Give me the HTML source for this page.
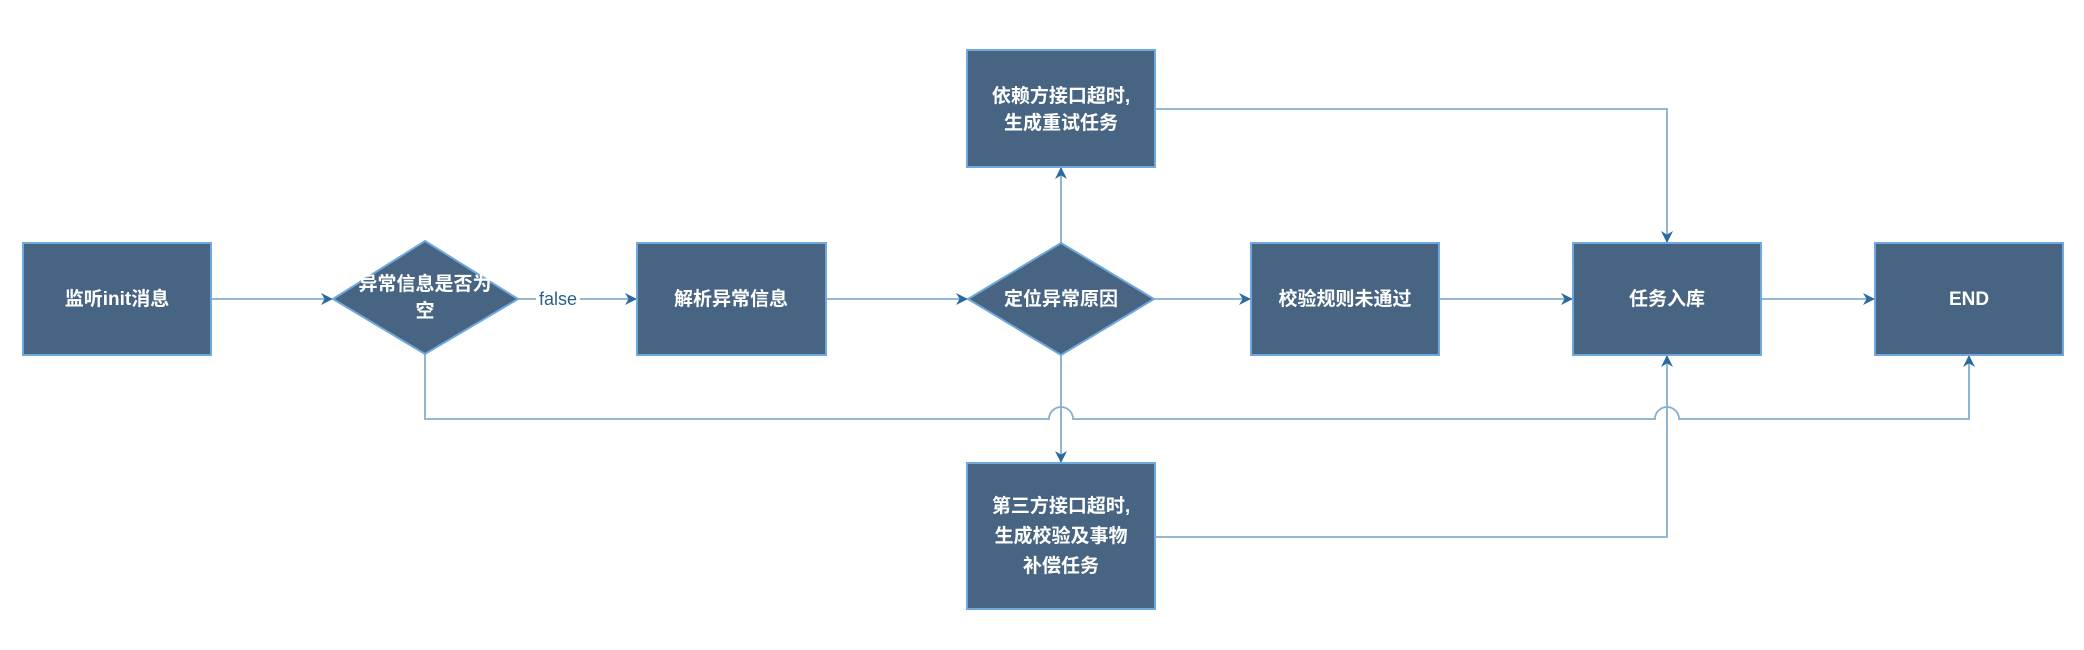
<!DOCTYPE html>
<html><head><meta charset="utf-8"><style>
html,body{margin:0;padding:0;background:#fff;}
svg{display:block;}
text{font-family:"Liberation Sans","Noto Sans CJK SC",sans-serif;}
</style></head><body>
<svg width="2084" height="650" viewBox="0 0 2084 650" xmlns="http://www.w3.org/2000/svg">
<defs>
<marker id="a" viewBox="0 0 10 10" refX="10" refY="5" markerWidth="12" markerHeight="12" markerUnits="userSpaceOnUse" orient="auto">
<path d="M0,0 L10,5 L0,10 L3,5 Z" fill="#2a6aa0"/>
</marker>
</defs>
<g fill="none" stroke="#86aecd" stroke-width="1.8">
<path d="M211,299 H333" marker-end="url(#a)"/>
<path d="M518,299 H637" marker-end="url(#a)"/>
<path d="M826,299 H968" marker-end="url(#a)"/>
<path d="M1154,299 H1251" marker-end="url(#a)"/>
<path d="M1439,299 H1573" marker-end="url(#a)"/>
<path d="M1761,299 H1875" marker-end="url(#a)"/>
<path d="M1061,243 V167" marker-end="url(#a)"/>
<path d="M1061,355 V463" marker-end="url(#a)"/>
<path d="M1155,109 H1667 V243" marker-end="url(#a)"/>
<path d="M1155,537 H1667 V355" marker-end="url(#a)"/>
<path d="M425,354 V419 H1049 A12,12 0 0 1 1073,419 H1655 A12,12 0 0 1 1679,419 H1969 V355" marker-end="url(#a)"/>
</g>
<g fill="#476582" stroke="#6fa8dc" stroke-width="2">
<rect x="23" y="243" width="188" height="112"/>
<polygon points="425,241 518,299 425,354 333,299"/>
<rect x="637" y="243" width="189" height="112"/>
<polygon points="1061,243 1154,299 1061,355 968,299"/>
<rect x="967" y="50" width="188" height="117"/>
<rect x="1251" y="243" width="188" height="112"/>
<rect x="967" y="463" width="188" height="146"/>
<rect x="1573" y="243" width="188" height="112"/>
<rect x="1875" y="243" width="188" height="112"/>
</g>
<g fill="#fff" font-size="19" font-weight="600" text-anchor="middle">
<text x="117" y="305">监听init消息</text>
<text x="425" y="290">异常信息是否为</text>
<text x="425" y="317">空</text>
<text x="731" y="305">解析异常信息</text>
<text x="1061" y="305">定位异常原因</text>
<text x="1061" y="102">依赖方接口超时,</text>
<text x="1061" y="129">生成重试任务</text>
<text x="1061" y="512">第三方接口超时,</text>
<text x="1061" y="542">生成校验及事物</text>
<text x="1061" y="572">补偿任务</text>
<text x="1345" y="305">校验规则未通过</text>
<text x="1667" y="305">任务入库</text>
<text x="1969" y="305">END</text>
</g>
<rect x="536" y="288" width="44" height="20" fill="#fff"/>
<text x="558" y="305" font-size="18" fill="#2d5f8a" text-anchor="middle">false</text>
</svg>
</body></html>
